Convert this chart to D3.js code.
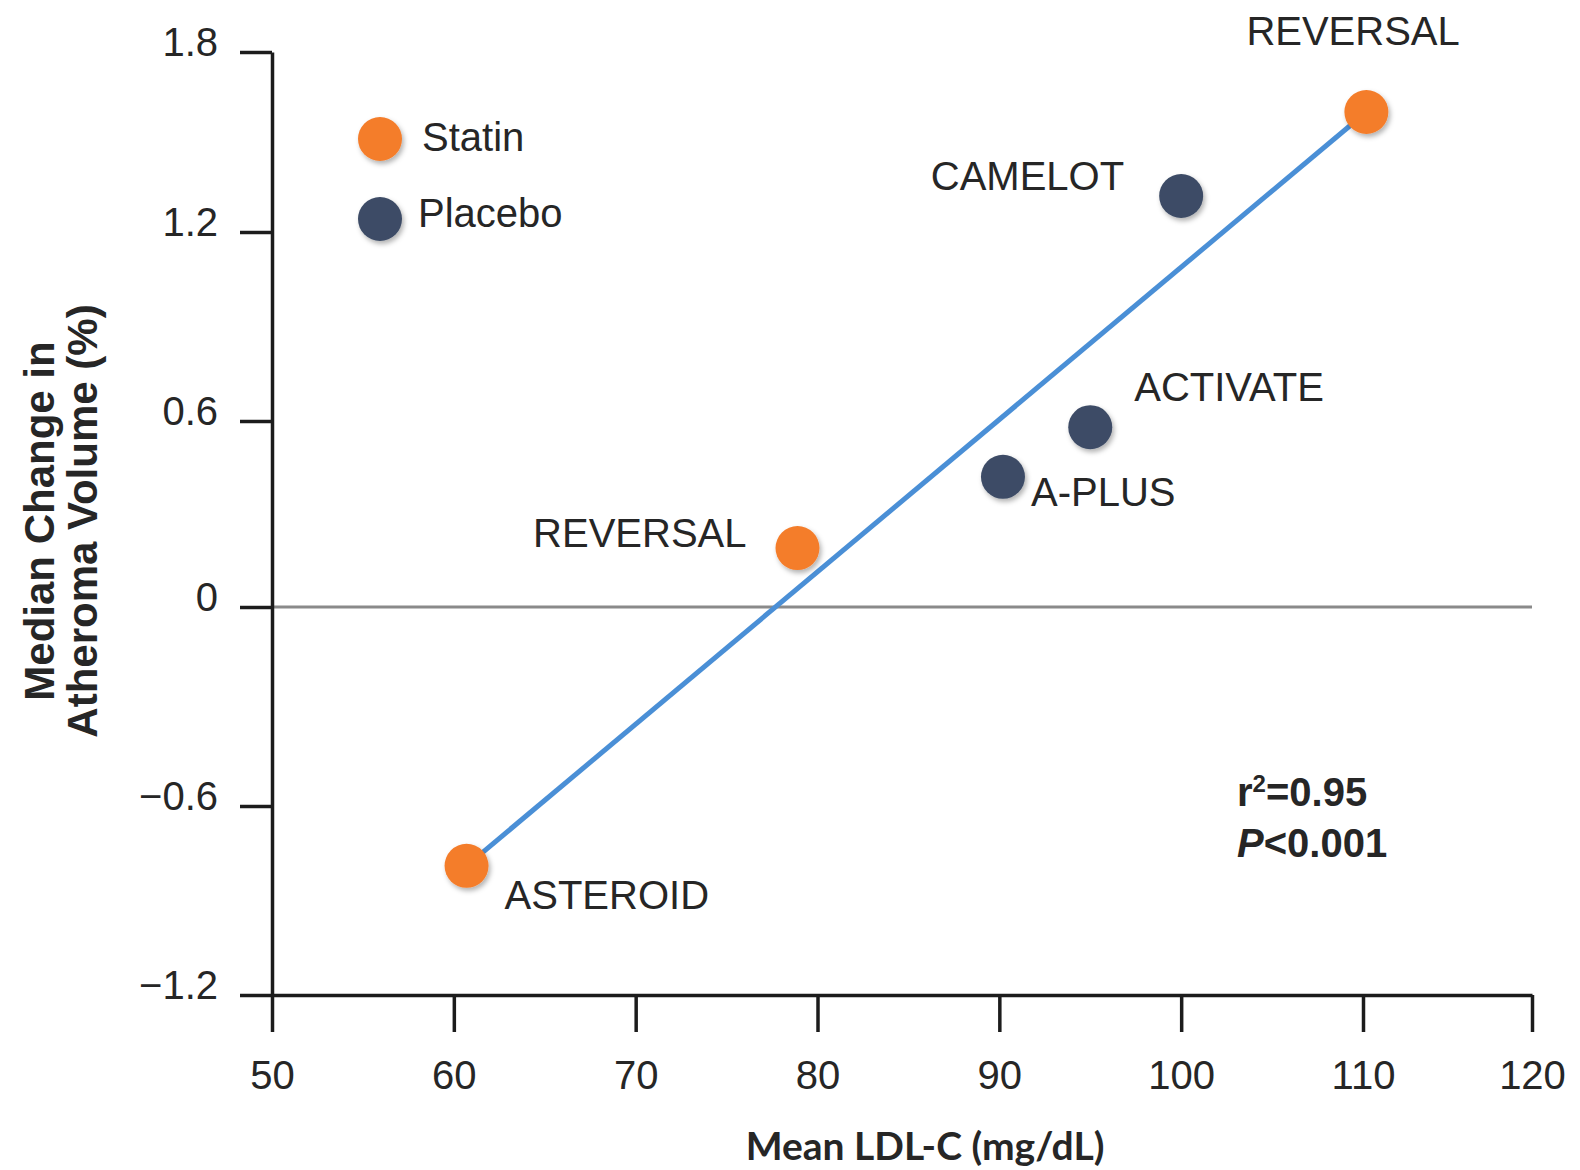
<!DOCTYPE html>
<html>
<head>
<meta charset="utf-8">
<script src="https://cdn.jsdelivr.net/npm/d3@7"></script>
<style>
  body { margin: 0; background: #fff; }
  text { font-family: "Liberation Sans", Arial, sans-serif; fill: #262626; }
</style>
</head>
<body>
<div id="chart"></div>
<script>
// data
var xTicks = [50, 60, 70, 80, 90, 100, 110, 120];
var yTicks = [-1.2, -0.6, 0, 0.6, 1.2, 1.8];
var yTickLabels = ["\u22121.2", "\u22120.6", "0", "0.6", "1.2", "1.8"];

var trials = ["REVERSAL", "CAMELOT", "ACTIVATE", "A-PLUS", "REVERSAL", "ASTEROID"];
var groups = ["Statin", "Placebo", "Placebo", "Placebo", "Statin", "Statin"];
var ldl = [110.2, 100, 95, 90.2, 78.9, 60.7];
var change = [1.6, 1.32, 0.58, 0.42, 0.19, -0.79];

var fitX = [60.7, 110.2];
var fitY = [-0.79, 1.6];

var legendNames = ["Statin", "Placebo"];
var colors = { "Statin": "#f47d2b", "Placebo": "#3d4c66" };

// SVG size
var svgWidth = 1580;
var svgHeight = 1170;

var svg = d3.select("#chart")
  .append("svg")
  .attr("width", svgWidth)
  .attr("height", svgHeight);

// soft shadow under the dots
var defs = svg.append("defs");
defs.append("filter")
  .attr("id", "shadow")
  .attr("x", "-50%").attr("y", "-50%")
  .attr("width", "200%").attr("height", "200%")
  .append("feDropShadow")
  .attr("dx", 2).attr("dy", 3)
  .attr("stdDeviation", 2.5)
  .attr("flood-color", "#000")
  .attr("flood-opacity", 0.3);

// the printed axes are not evenly spaced, so use piecewise scales on the tick positions
var xScale = d3.scaleLinear()
  .domain([50, 110, 120])
  .range([272, 1363, 1532]);

var yScale = d3.scaleLinear()
  .domain(yTicks)
  .range([995, 806, 607, 421, 232, 52]);

// zero line
svg.append("line")
  .attr("x1", xScale(50))
  .attr("x2", xScale(120))
  .attr("y1", yScale(0))
  .attr("y2", yScale(0))
  .attr("stroke", "#8a8a8a")
  .attr("stroke-width", 3);

// axes
var bottomAxis = d3.axisBottom(xScale)
  .tickValues(xTicks)
  .tickSize(37)
  .tickSizeOuter(0)
  .tickPadding(29);

var leftAxis = d3.axisLeft(yScale)
  .tickValues(yTicks)
  .tickSize(32)
  .tickSizeOuter(0)
  .tickPadding(22)
  .tickFormat(function(d, i) { return yTickLabels[i]; });

var xAxisG = svg.append("g")
  .attr("transform", "translate(0," + yScale(-1.2) + ")")
  .call(bottomAxis);

var yAxisG = svg.append("g")
  .attr("transform", "translate(" + xScale(50) + ",0)")
  .call(leftAxis);

[xAxisG, yAxisG].forEach(function(g) {
  g.select(".domain").attr("stroke", "#1c1c1c").attr("stroke-width", 3.5);
  g.selectAll(".tick line").attr("stroke", "#1c1c1c").attr("stroke-width", 3.5);
  g.selectAll(".tick text")
    .attr("font-family", "Liberation Sans, Arial, sans-serif")
    .attr("font-size", 40)
    .attr("fill", "#2b2b2b");
});
yAxisG.selectAll(".tick text").attr("dy", "0.08em");

// fit line
var line = d3.line()
  .x(function(d) { return xScale(d[0]); })
  .y(function(d) { return yScale(d[1]); });

svg.append("path")
  .datum(d3.zip(fitX, fitY))
  .attr("d", line)
  .attr("fill", "none")
  .attr("stroke", "#4a8fd6")
  .attr("stroke-width", 5);

// points
var points = d3.range(trials.length).map(function(i) {
  return { trial: trials[i], group: groups[i], x: ldl[i], y: change[i] };
});

svg.selectAll("circle.pt")
  .data(points)
  .enter()
  .append("circle")
  .attr("class", "pt")
  .attr("cx", function(d) { return xScale(d.x); })
  .attr("cy", function(d) { return yScale(d.y); })
  .attr("r", 22)
  .attr("fill", function(d) { return colors[d.group]; })
  .attr("filter", "url(#shadow)");

// label placement next to each point
var labelPos = [
  { dx: -120, dy: -67, anchor: "start" },
  { dx: -57, dy: -6, anchor: "end" },
  { dx: 44, dy: -26, anchor: "start" },
  { dx: 28, dy: 29, anchor: "start" },
  { dx: -51, dy: -1, anchor: "end" },
  { dx: 38, dy: 43, anchor: "start" }
];

svg.selectAll("text.lbl")
  .data(points)
  .enter()
  .append("text")
  .attr("class", "lbl")
  .attr("x", function(d, i) { return xScale(d.x) + labelPos[i].dx; })
  .attr("y", function(d, i) { return yScale(d.y) + labelPos[i].dy; })
  .attr("text-anchor", function(d, i) { return labelPos[i].anchor; })
  .attr("font-size", 40)
  .text(function(d) { return d.trial; });

// legend
var legend = svg.selectAll("g.legend")
  .data(legendNames)
  .enter()
  .append("g")
  .attr("class", "legend")
  .attr("transform", function(d, i) { return "translate(380," + (139 + i * 80) + ")"; });

legend.append("circle")
  .attr("r", 22)
  .attr("fill", function(d) { return colors[d]; })
  .attr("filter", "url(#shadow)");

legend.append("text")
  .attr("x", function(d, i) { return i === 0 ? 42 : 38; })
  .attr("y", function(d, i) { return i === 0 ? 12 : 8; })
  .attr("font-size", 40)
  .text(function(d) { return d; });

// stats
var stats = svg.append("text")
  .attr("x", 1237)
  .attr("y", 806)
  .attr("font-size", 40)
  .attr("font-weight", "bold");
stats.append("tspan").text("r");
stats.append("tspan").attr("font-size", 24).attr("dy", -14).text("2");
stats.append("tspan").attr("dy", 14).text("=0.95");

var stats2 = svg.append("text")
  .attr("x", 1237)
  .attr("y", 857)
  .attr("font-size", 40)
  .attr("font-weight", "bold");
stats2.append("tspan").attr("font-style", "italic").text("P");
stats2.append("tspan").text("<0.001");

// axis titles
svg.append("text")
  .attr("x", 925)
  .attr("y", 1160)
  .attr("text-anchor", "middle")
  .style("font-family", "Lato, 'Open Sans', sans-serif")
  .attr("font-weight", "bold")
  .attr("font-size", 39)
  .attr("fill", "#2b2b2b")
  .text("Mean LDL-C (mg/dL)");

var yTitle = svg.append("text")
  .attr("transform", "translate(0,521) rotate(-90)")
  .attr("text-anchor", "middle")
  .attr("font-weight", "bold")
  .attr("font-size", 42);
yTitle.append("tspan").attr("x", 0).attr("y", 54).text("Median Change in");
yTitle.append("tspan").attr("x", 0).attr("y", 97).text("Atheroma Volume (%)");
</script>
</body>
</html>
